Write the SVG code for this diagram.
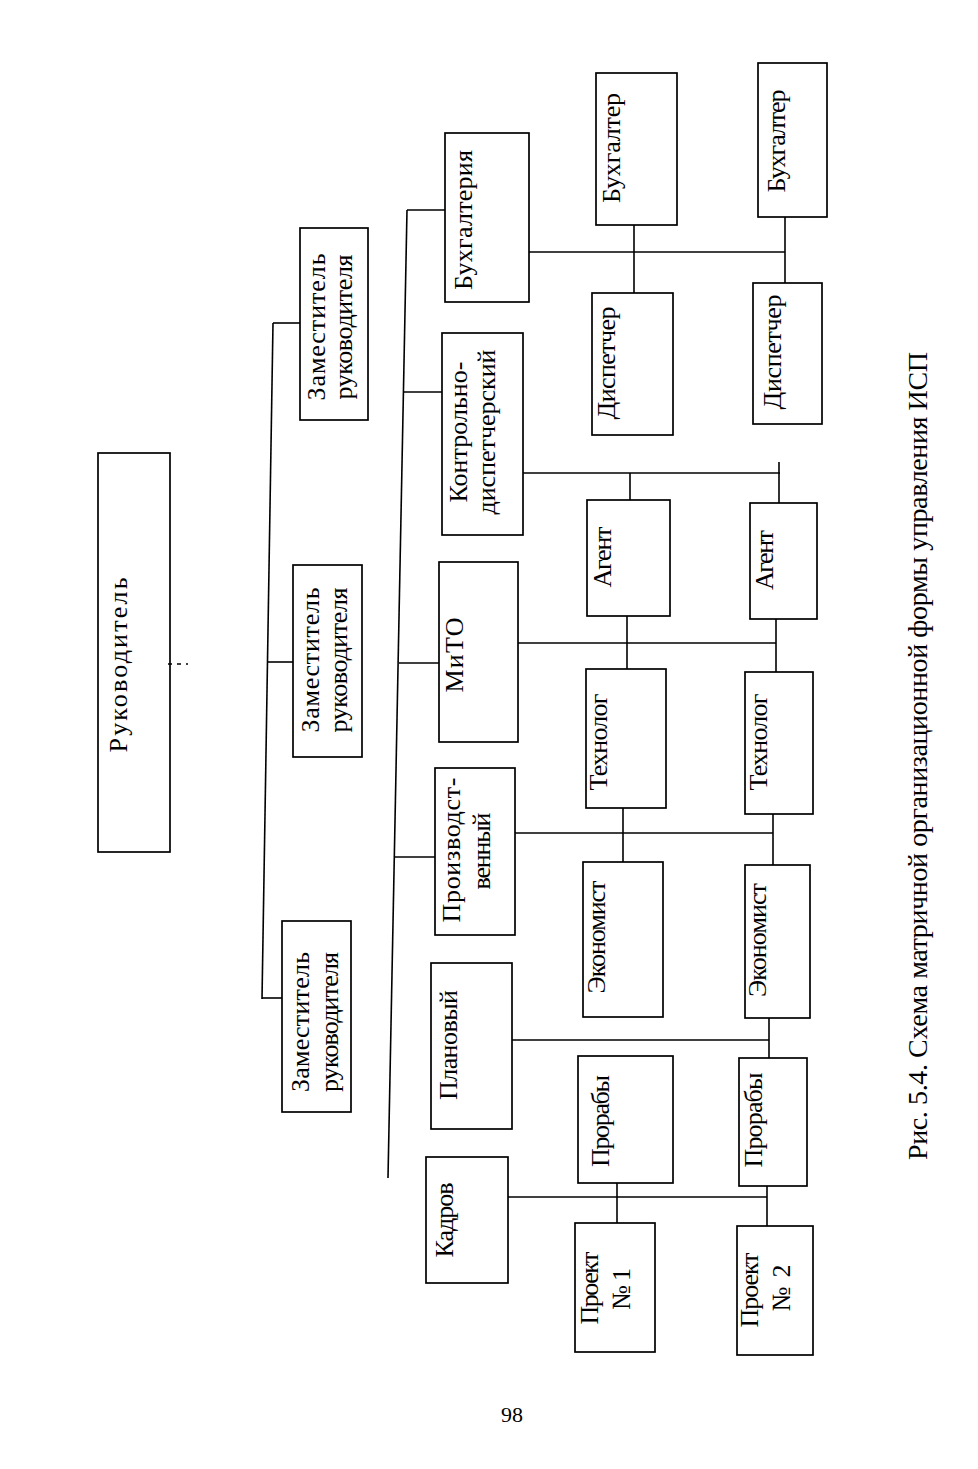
<svg xmlns="http://www.w3.org/2000/svg" width="978" height="1469" viewBox="0 0 978 1469">
<style>
.bg{fill:#fff}
.box{fill:none;stroke:#000;stroke-width:1.7}
.ln{fill:none;stroke:#000;stroke-width:1.6}
.t{font-family:"Liberation Serif","Times New Roman",serif;font-size:26px;fill:#000;text-anchor:middle}
.cap{font-size:28px}
</style>
<rect class="bg" x="0" y="0" width="978" height="1469"/>
<g id="connectors">
<line class="ln" x1="168" y1="664" x2="188" y2="664" stroke-dasharray="4,5"/>
<line class="ln" x1="273" y1="323" x2="262" y2="999"/>
<line class="ln" x1="273" y1="323" x2="300" y2="323"/>
<line class="ln" x1="268" y1="662" x2="293" y2="662"/>
<line class="ln" x1="262" y1="998" x2="282" y2="998"/>
<line class="ln" x1="407" y1="210" x2="388" y2="1178"/>
<line class="ln" x1="407" y1="210" x2="445" y2="210"/>
<line class="ln" x1="404" y1="392" x2="442" y2="392"/>
<line class="ln" x1="399" y1="663" x2="439" y2="663"/>
<line class="ln" x1="395" y1="857" x2="435" y2="857"/>
<line class="ln" x1="529" y1="252" x2="785" y2="252"/>
<line class="ln" x1="634" y1="225" x2="634" y2="293"/>
<line class="ln" x1="785" y1="217" x2="785" y2="283"/>
<line class="ln" x1="523" y1="473" x2="780" y2="473"/>
<line class="ln" x1="630" y1="473" x2="630" y2="500"/>
<line class="ln" x1="779" y1="462" x2="779" y2="503"/>
<line class="ln" x1="518" y1="643" x2="776" y2="643"/>
<line class="ln" x1="627" y1="616" x2="627" y2="669"/>
<line class="ln" x1="776" y1="619" x2="776" y2="672"/>
<line class="ln" x1="515" y1="833" x2="773" y2="833"/>
<line class="ln" x1="623" y1="808" x2="623" y2="862"/>
<line class="ln" x1="773" y1="814" x2="773" y2="865"/>
<line class="ln" x1="512" y1="1040" x2="769" y2="1040"/>
<line class="ln" x1="769" y1="1018" x2="769" y2="1058"/>
<line class="ln" x1="508" y1="1197" x2="767" y2="1197"/>
<line class="ln" x1="617" y1="1183" x2="617" y2="1223"/>
<line class="ln" x1="767" y1="1186" x2="767" y2="1226"/>
</g>
<g id="n-rukovoditel"><rect class="box" x="98" y="453" width="72" height="399"/>
<text class="t" x="127" y="665" transform="rotate(-90 127 665)" textLength="175">Руководитель</text></g>
<g id="n-zam1"><rect class="box" x="300" y="228" width="68" height="192"/>
<text class="t" x="325" y="327" transform="rotate(-90 325 327)" textLength="147">Заместитель</text>
<text class="t" x="352" y="327" transform="rotate(-90 352 327)" textLength="145">руководителя</text></g>
<g id="n-zam2"><rect class="box" x="293" y="565" width="69" height="192"/>
<text class="t" x="319" y="660" transform="rotate(-90 319 660)" textLength="145">Заместитель</text>
<text class="t" x="347" y="660" transform="rotate(-90 347 660)" textLength="145">руководителя</text></g>
<g id="n-zam3"><rect class="box" x="282" y="921" width="69" height="191"/>
<text class="t" x="309" y="1022" transform="rotate(-90 309 1022)" textLength="140">Заместитель</text>
<text class="t" x="338" y="1022" transform="rotate(-90 338 1022)" textLength="140">руководителя</text></g>
<g id="n-buhgalteriya"><rect class="box" x="445" y="133" width="84" height="169"/>
<text class="t" x="472" y="220" transform="rotate(-90 472 220)" textLength="140">Бухгалтерия</text></g>
<g id="n-kd"><rect class="box" x="442" y="333" width="81" height="202"/>
<text class="t" x="467" y="432" transform="rotate(-90 467 432)" textLength="141">Контрольно-</text>
<text class="t" x="495" y="432" transform="rotate(-90 495 432)" textLength="165">диспетчерский</text></g>
<g id="n-mto"><rect class="box" x="439" y="562" width="79" height="180"/>
<text class="t" x="463" y="655" transform="rotate(-90 463 655)" textLength="75">МиТО</text></g>
<g id="n-proizv"><rect class="box" x="435" y="768" width="80" height="167"/>
<text class="t" x="460" y="850" transform="rotate(-90 460 850)" textLength="145">Производст-</text>
<text class="t" x="490" y="851" transform="rotate(-90 490 851)" textLength="77">венный</text></g>
<g id="n-plan"><rect class="box" x="431" y="963" width="81" height="166"/>
<text class="t" x="457" y="1045" transform="rotate(-90 457 1045)" textLength="110">Плановый</text></g>
<g id="n-kadrov"><rect class="box" x="426" y="1157" width="82" height="126"/>
<text class="t" x="453" y="1220" transform="rotate(-90 453 1220)" textLength="75">Кадров</text></g>
<g id="n-buh1"><rect class="box" x="596" y="73" width="81" height="152"/>
<text class="t" x="620" y="148" transform="rotate(-90 620 148)" textLength="110">Бухгалтер</text></g>
<g id="n-disp1"><rect class="box" x="592" y="293" width="81" height="142"/>
<text class="t" x="615" y="363" transform="rotate(-90 615 363)" textLength="113">Диспетчер</text></g>
<g id="n-agent1"><rect class="box" x="587" y="500" width="83" height="116"/>
<text class="t" x="611" y="557" transform="rotate(-90 611 557)" textLength="61">Агент</text></g>
<g id="n-tehn1"><rect class="box" x="586" y="669" width="80" height="139"/>
<text class="t" x="607" y="742" transform="rotate(-90 607 742)" textLength="97">Технолог</text></g>
<g id="n-ekon1"><rect class="box" x="583" y="862" width="80" height="155"/>
<text class="t" x="605" y="937" transform="rotate(-90 605 937)" textLength="113">Экономист</text></g>
<g id="n-prorab1"><rect class="box" x="578" y="1056" width="95" height="127"/>
<text class="t" x="609" y="1121" transform="rotate(-90 609 1121)" textLength="92">Прорабы</text></g>
<g id="n-proekt1"><rect class="box" x="575" y="1223" width="80" height="129"/>
<text class="t" x="598" y="1288" transform="rotate(-90 598 1288)" textLength="73">Проект</text>
<text class="t" x="630" y="1289" transform="rotate(-90 630 1289)" textLength="42">№ 1</text></g>
<g id="n-buh2"><rect class="box" x="758" y="63" width="69" height="154"/>
<text class="t" x="785" y="141" transform="rotate(-90 785 141)" textLength="103">Бухгалтер</text></g>
<g id="n-disp2"><rect class="box" x="753" y="283" width="69" height="141"/>
<text class="t" x="781" y="352" transform="rotate(-90 781 352)" textLength="115">Диспетчер</text></g>
<g id="n-agent2"><rect class="box" x="750" y="503" width="67" height="116"/>
<text class="t" x="773" y="560" transform="rotate(-90 773 560)" textLength="60">Агент</text></g>
<g id="n-tehn2"><rect class="box" x="745" y="672" width="68" height="142"/>
<text class="t" x="767" y="742" transform="rotate(-90 767 742)" textLength="97">Технолог</text></g>
<g id="n-ekon2"><rect class="box" x="745" y="865" width="65" height="153"/>
<text class="t" x="766" y="940" transform="rotate(-90 766 940)" textLength="114">Экономист</text></g>
<g id="n-prorab2"><rect class="box" x="739" y="1058" width="68" height="128"/>
<text class="t" x="762" y="1120" transform="rotate(-90 762 1120)" textLength="95">Прорабы</text></g>
<g id="n-proekt2"><rect class="box" x="737" y="1226" width="76" height="129"/>
<text class="t" x="758" y="1290" transform="rotate(-90 758 1290)" textLength="75">Проект</text>
<text class="t" x="790" y="1288" transform="rotate(-90 790 1288)" textLength="47">№ 2</text></g>
<g id="caption">
<text class="t cap" x="927" y="756" transform="rotate(-90 927 756)" textLength="808">Рис. 5.4. Схема матричной организационной формы управления ИСП</text>
<text class="t" x="512" y="1422" style="font-size:22px">98</text>
</g>
</svg>
